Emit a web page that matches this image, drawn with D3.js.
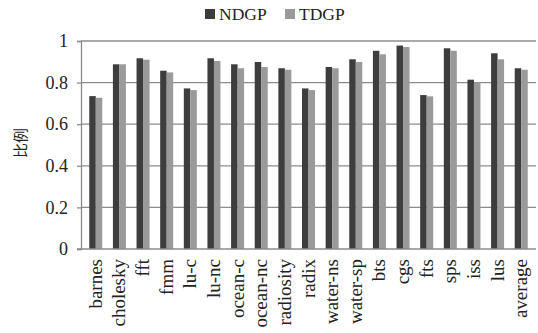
<!DOCTYPE html>
<html><head><meta charset="utf-8">
<script src="https://cdn.jsdelivr.net/npm/d3@7"></script>
<style>
body{margin:0;background:#fff;}
text{font-family:"Liberation Serif","Times New Roman",serif;fill:#222;}
</style></head>
<body><svg id="c" width="538" height="333"></svg>
<script>
const categories = ["barnes","cholesky","fft","fmm","lu-c","lu-nc","ocean-c","ocean-nc","radiosity","radix","water-ns","water-sp","bts","cgs","fts","sps","iss","lus","average"];
const ndgp = [0.735,0.888,0.917,0.857,0.772,0.917,0.888,0.899,0.869,0.772,0.875,0.912,0.953,0.978,0.740,0.965,0.814,0.941,0.869];
const tdgp = [0.727,0.888,0.910,0.849,0.764,0.904,0.869,0.875,0.862,0.764,0.869,0.899,0.936,0.971,0.734,0.953,0.801,0.912,0.862];
const seriesNames = ["NDGP","TDGP"];
const yTicks = [0,0.2,0.4,0.6,0.8,1];
const yTickLabels = ["0","0.2","0.4","0.6","0.8","1"];
const colors = ["#3d3d3d","#9a9a9a"];

const svg = d3.select("#c");
const mLeft = 81, mRight = 536, mTop = 41, mBottom = 249;
const x = d3.scaleBand().domain(categories).range([mLeft, mRight]).paddingInner(0.45).paddingOuter(0.35);
const x1 = d3.scaleBand().domain(seriesNames).range([0, x.bandwidth()]);
const y = d3.scaleLinear().domain([0,1]).range([mBottom, mTop]);

// gridlines
svg.append("g").selectAll("line").data(yTicks.filter(d=>d>0)).join("line")
  .attr("x1", mLeft).attr("x2", mRight).attr("y1", d=>y(d)).attr("y2", d=>y(d))
  .attr("stroke", "#8c8c8c").attr("stroke-width", 1.3);

// bars
const data = categories.map((c,i)=>({c, vals:[ndgp[i], tdgp[i]]}));
const g = svg.append("g").selectAll("g").data(data).join("g")
  .attr("transform", d=>`translate(${x(d.c)},0)`);
g.selectAll("rect").data(d=>d.vals.map((v,j)=>({v, s:seriesNames[j], j}))).join("rect")
  .attr("x", d=>x1(d.s)).attr("width", x1.bandwidth())
  .attr("y", d=>y(d.v)).attr("height", d=>y(0)-y(d.v))
  .attr("fill", d=>colors[d.j]);

// y axis
const ya = svg.append("g").attr("transform", `translate(${mLeft},0)`)
  .call(d3.axisLeft(y).tickValues(yTicks).tickFormat((d,i)=>yTickLabels[i]).tickSize(4).tickPadding(9));
ya.select(".domain").attr("stroke", "#8c8c8c").attr("stroke-width", 1.3);
ya.selectAll(".tick line").attr("stroke", "#8c8c8c").attr("stroke-width", 1.3);
ya.selectAll("text").style("font-size", "18px").attr("fill", "#222");

// x axis
const xa = svg.append("g").attr("transform", `translate(0,${mBottom})`)
  .call(d3.axisBottom(x).tickSize(0).tickPadding(0));
xa.select(".domain").attr("stroke", "#8c8c8c").attr("stroke-width", 1.3).attr("d", `M${mLeft-4},0H${mRight}`);
xa.selectAll("text").style("font-size", "19px").attr("fill", "#222")
  .attr("text-anchor", "end").attr("dy", null)
  .attr("transform", "translate(6,10) rotate(-90)").attr("x", 0).attr("y", 0);

// y label
svg.append("text").attr("transform", "translate(26,143) rotate(-90)")
  .attr("text-anchor", "middle")
  .style("font-family", "'Noto Sans CJK SC',sans-serif").style("font-size", "15px")
  .text("比例");

// legend
const lg = svg.append("g");
const legX = [205, 285];
seriesNames.forEach((s,i)=>{
  lg.append("rect").attr("x", legX[i]).attr("y", 9).attr("width", 10).attr("height", 10).attr("fill", colors[i]);
  lg.append("text").attr("x", legX[i]+14).attr("y", 20).style("font-size", "17.5px").text(s);
});
</script></body></html>
